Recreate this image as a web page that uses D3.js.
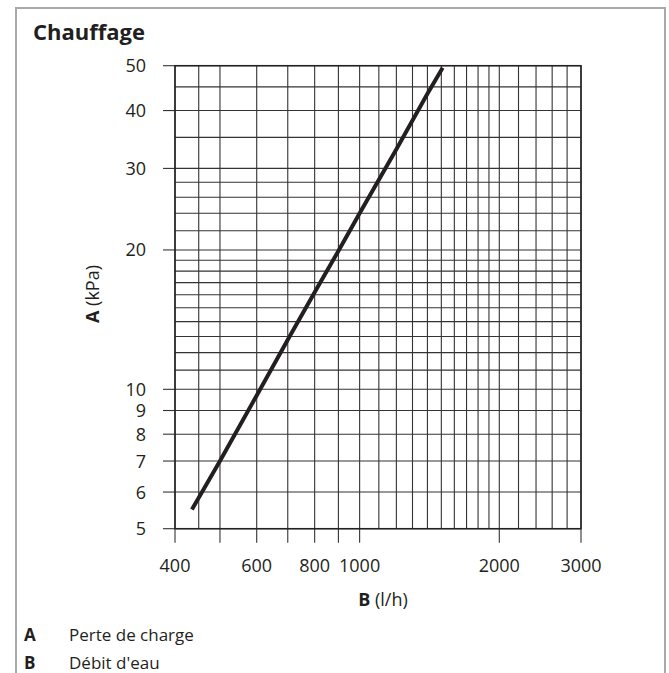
<!DOCTYPE html>
<html>
<head>
<meta charset="utf-8">
<script src="https://cdn.jsdelivr.net/npm/d3@7"></script>
<style>
  body { margin: 0; background: #fff; }
  svg text { font-family: "Open Sans", "Noto Sans", sans-serif; fill: #231f20; }
</style>
</head>
<body>
<svg id="chart" width="669" height="673"></svg>
<script>
// flow (l/h) vs pressure loss (kPa)
const flow = [435, 500, 600, 700, 800, 900, 1000, 1200, 1400, 1510]
const loss = [5.5, 7.0, 9.7, 12.8, 16.2, 19.9, 24, 33, 43.5, 49.5]

const xGrid = [400, 450, 500, 600, 700, 800, 900, 1000, 1100, 1200, 1300, 1400, 1500,
               1600, 1700, 1800, 1900, 2000, 2200, 2400, 2600, 2800, 3000]
const xTicks = [400, 500, 600, 700, 800, 900, 1000, 2000, 3000]
const xLabels = [400, 600, 800, 1000, 2000, 3000]

const yGrid = [5, 6, 7, 8, 9, 10, 11, 12, 13, 14, 15, 16, 17, 18, 19, 20,
               22, 24, 26, 28, 30, 35, 40, 45, 50]
const yLabels = [5, 6, 7, 8, 9, 10, 20, 30, 40, 50]

const legend = [['A', 'Perte de charge'], ['B', "Débit d'eau"]]

const svg = d3.select('#chart')

// frame
svg.append('path')
   .attr('d', 'M16,673 V8 H665 V673')
   .attr('fill', 'none')
   .attr('stroke', '#a7a9ac')
   .attr('stroke-width', 2)

svg.append('text')
   .attr('x', 33).attr('y', 40)
   .attr('font-size', 22).attr('font-weight', 700)
   .text('Chauffage')

const x = d3.scaleLog().domain([400, 3000]).range([175, 581])
const y = d3.scaleLog().domain([5, 50]).range([528.7, 65.7])

const grid = svg.append('g').attr('stroke', '#333').attr('stroke-width', 1.1)

grid.selectAll('.vx')
    .data(xGrid)
    .join('line')
      .attr('x1', d => x(d)).attr('x2', d => x(d))
      .attr('y1', y(50)).attr('y2', y(5))

grid.selectAll('.hy')
    .data(yGrid)
    .join('line')
      .attr('y1', d => y(d)).attr('y2', d => y(d))
      .attr('x1', x(400)).attr('x2', x(3000))

// ticks sticking out of the plot
grid.selectAll('.tx')
    .data(xTicks)
    .join('line')
      .attr('x1', d => x(d)).attr('x2', d => x(d))
      .attr('y1', y(5)).attr('y2', y(5) + 14)

grid.selectAll('.ty')
    .data(yLabels)
    .join('line')
      .attr('y1', d => y(d)).attr('y2', d => y(d))
      .attr('x1', x(400) - 12).attr('x2', x(400))

svg.append('rect')
   .attr('x', x(400)).attr('y', y(50))
   .attr('width', x(3000) - x(400)).attr('height', y(5) - y(50))
   .attr('fill', 'none').attr('stroke', '#222').attr('stroke-width', 1.5)

svg.append('g')
   .selectAll('text')
   .data(yLabels)
   .join('text')
     .attr('x', 146)
     .attr('y', d => y(d))
     .attr('dy', '0.36em')
     .attr('text-anchor', 'end')
     .attr('font-size', 18)
     .text(d => d)

svg.append('g')
   .selectAll('text')
   .data(xLabels)
   .join('text')
     .attr('x', d => x(d))
     .attr('y', 572)
     .attr('text-anchor', 'middle')
     .attr('font-size', 18)
     .text(d => d)

const xt = svg.append('text')
   .attr('x', 383).attr('y', 606)
   .attr('text-anchor', 'middle').attr('font-size', 18)
xt.append('tspan').attr('font-weight', 700).text('B')
xt.append('tspan').text(' (l/h)')

const yt = svg.append('text')
   .attr('transform', 'translate(99,294) rotate(-90)')
   .attr('text-anchor', 'middle').attr('font-size', 18)
yt.append('tspan').attr('font-weight', 700).text('A')
yt.append('tspan').text(' (kPa)')

// curve
const pts = flow.map((f, i) => [f, loss[i]])
svg.append('path')
   .datum(pts)
   .attr('fill', 'none')
   .attr('stroke', '#231f20')
   .attr('stroke-width', 4)
   .attr('d', d3.line().x(d => x(d[0])).y(d => y(d[1])))

const lg = svg.append('g')
   .selectAll('g')
   .data(legend)
   .join('g')
     .attr('transform', (d, i) => 'translate(0,' + (641 + i * 28) + ')')
lg.append('text').attr('x', 24).attr('font-size', 17).attr('font-weight', 700).text(d => d[0])
lg.append('text').attr('x', 69).attr('font-size', 17).text(d => d[1])
</script>
</body>
</html>
